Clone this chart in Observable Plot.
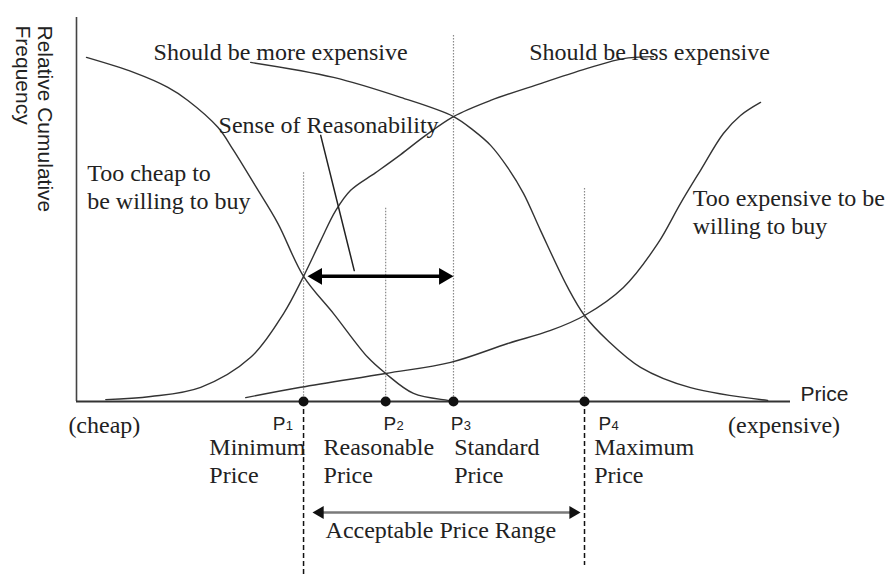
<!DOCTYPE html>
<html>
<head>
<meta charset="utf-8">
<script src="https://cdn.jsdelivr.net/npm/d3@7"></script>
<script src="https://cdn.jsdelivr.net/npm/@observablehq/plot@0.6"></script>
<style>
  html, body { margin: 0; padding: 0; background: #fff; }
  #chart svg { display: block; }
</style>
</head>
<body>
<div id="chart"></div>
<script>
// Price sensitivity meter: four cumulative response curves over price
// (price on a 0–100 scale, relative cumulative frequency in %).

const tooCheapPrice = [1.4, 8.0, 12.8, 15.6, 19.8, 22.0, 25.1, 28.2, 31.8, 36.0, 40.8, 43.3, 47.2, 52.0, 53.1];
const tooCheapFreq  = [89.6, 85.7, 81.8, 78.4, 71.4, 65.4, 56.0, 46.4, 32.6, 22.9, 11.5, 7.3, 2.1, 0.3, 0];

const moreExpPrice = [24.4, 36.0, 45.4, 52.8, 55.6, 58.0, 60.4, 62.6, 65.0, 68.8, 71.15, 74.4, 79.0, 86.0, 96.8];
const moreExpFreq  = [88.3, 84.4, 79.2, 74.2, 70.6, 66.7, 60.9, 54.2, 44.5, 29.7, 22.4, 15.9, 8.9, 3.6, 0.3];

const lessExpPrice = [4.1, 10.4, 17.4, 24.4, 29.0, 31.8, 34.2, 36.3, 38.4, 41.9, 45.4, 48.9, 52.8, 58.0, 65.0, 72.0, 76.6, 80.8];
const lessExpFreq  = [0.5, 1.3, 3.7, 11.5, 22.9, 32.6, 41.9, 49.7, 55.0, 59.6, 64.3, 69.3, 74.2, 78.4, 82.8, 87.0, 89.3, 89.8];

const tooExpPrice = [23.7, 31.4, 43.3, 52.4, 60.4, 66.4, 71.15, 76.6, 81.4, 84.6, 87.4, 90.6, 93.0, 95.8];
const tooExpFreq  = [1.0, 3.7, 7.3, 10.2, 15.1, 18.5, 22.4, 29.7, 41.1, 51.6, 60.2, 69.8, 74.5, 77.9];

// Intersection prices P1..P4 and their captions
const pointSub      = ["1", "2", "3", "4"];
const pointPrices   = [31.8, 43.3, 52.8, 71.15];
const pointCaptions = ["Minimum\nPrice", "Reasonable\nPrice", "Standard\nPrice", "Maximum\nPrice"];
const guideTops     = [59.6, 50.3, 95.3, 55.5];     // dotted guide heights (%)
const pLabelPrice   = [27.5, 43.0, 52.4, 73.1];     // "P" label anchors
const captionPrice  = [18.6, 34.6, 52.9, 72.5];     // caption anchors
const dashedEnds    = [-45.1, -42.7];               // dashed P1 / P4 extensions below the axis

// Curve names and their anchors
const curveLabelText  = ["Should be more expensive", "Should be less expensive", "Sense of Reasonability",
                         "Too cheap to\nbe willing to buy", "Too expensive to be\nwilling to buy"];
const curveLabelPrice = [10.8, 63.4, 19.9, 1.5, 86.3];
const curveLabelFreq  = [94.0, 94.0, 75.0, 62.5, 56.0];

// Pointer from "Sense of Reasonability" to the P1–P3 span
const pointerPrice = [34.2, 38.9];
const pointerFreq  = [69.3, 34.1];

const endLabels      = ["(cheap)", "(expensive)"];
const endLabelPrice  = [3.9, 99.1];
const endLabelFreq   = -3.65;
const rangeLabelText = "Acceptable Price Range";
const rangeArrowFreq = -28.9;
const rangeLabelFreq = -31.0;
const yTitle = "Relative Cumulative\nFrequency";
const xTitle = "Price";

const serif = "'Liberation Serif', 'Times New Roman', serif";
const sans  = "'Liberation Sans', Arial, sans-serif";

const toRows = (name, xs, ys) => xs.map((x, i) => ({curve: name, price: x, freq: ys[i]}));
const curves = [
  ...toRows("tooCheap", tooCheapPrice, tooCheapFreq),
  ...toRows("moreExpensive", moreExpPrice, moreExpFreq),
  ...toRows("lessExpensive", lessExpPrice, lessExpFreq),
  ...toRows("tooExpensive", tooExpPrice, tooExpFreq)
];
const idx = pointPrices.map((_, i) => i);
const p1Freq = tooCheapFreq[tooCheapPrice.indexOf(31.8)];
const reason = [{x1: pointPrices[0], x2: pointPrices[2], y: p1Freq}];
const range = [{x1: pointPrices[0], x2: pointPrices[3], y: rangeArrowFreq}];

const chart = Plot.plot({
  width: 894,
  height: 574,
  marginLeft: 76,
  marginRight: 104,
  marginTop: 17,
  marginBottom: 173,
  x: {domain: [0, 100], axis: null},
  y: {domain: [0, 100], axis: null},
  style: {background: "#fff", color: "#222"},
  marks: [
    // dotted guides from each intersection down to the axis
    Plot.ruleX(idx, {x: i => pointPrices[i], y1: i => guideTops[i], y2: 0,
      stroke: "#8a8a8a", strokeWidth: 1.2, strokeDasharray: "1.5 1.5"}),
    // dashed bounds of the acceptable range
    Plot.ruleX([0, 3], {x: i => pointPrices[i], y1: 0, y2: (i, k) => dashedEnds[k],
      stroke: "#111", strokeWidth: 1.5, strokeDasharray: "5 3"}),
    // axes
    Plot.ruleX([0], {y1: 0, y2: 100, stroke: "#444", strokeWidth: 1.6}),
    Plot.ruleY([0], {x1: 0, x2: 100, stroke: "#333", strokeWidth: 1.8}),
    // the four response curves
    Plot.line(curves, {x: "price", y: "freq", z: "curve", curve: "catmull-rom",
      stroke: "#333", strokeWidth: 1.4}),
    // pointer line
    Plot.line(pointerPrice.map((p, i) => ({price: p, freq: pointerFreq[i]})),
      {x: "price", y: "freq", stroke: "#222", strokeWidth: 1.5}),
    // sense-of-reasonability double arrow (P1 to P3)
    Plot.ruleY(reason, {x1: "x1", x2: "x2", y: "y", stroke: "#000", strokeWidth: 3.5,
      insetLeft: 12, insetRight: 10}),
    Plot.dot(reason, {x: "x2", y: "y", symbol: "triangle", r: 6.2, rotate: 90, dx: -9.6, fill: "#000", stroke: "none"}),
    Plot.dot(reason, {x: "x1", y: "y", symbol: "triangle", r: 6.2, rotate: -90, dx: 13.6, fill: "#000", stroke: "none"}),
    // acceptable price range arrow (P1 to P4)
    Plot.ruleY(range, {x1: "x1", x2: "x2", y: "y", stroke: "#7a7a7a", strokeWidth: 2.6,
      insetLeft: 14, insetRight: 9}),
    Plot.dot(range, {x: "x2", y: "y", symbol: "triangle", r: 4.8, rotate: 90, dx: -11.4, fill: "#111", stroke: "none"}),
    Plot.dot(range, {x: "x1", y: "y", symbol: "triangle", r: 4.8, rotate: -90, dx: 16.4, fill: "#111", stroke: "none"}),
    // intersection points on the price axis
    Plot.dot(pointPrices, {x: d => d, y: 0, r: 5, fill: "#111", stroke: "none"}),
    // curve names
    Plot.text(idx.concat([4]), {x: i => curveLabelPrice[i], y: i => curveLabelFreq[i], text: i => curveLabelText[i],
      textAnchor: "start", lineAnchor: "top", lineHeight: 1.15, fontFamily: serif, fontSize: 24, fill: "#222"}),
    // P labels with subscripts
    Plot.text(idx, {x: i => pLabelPrice[i], y: -4.0, text: () => "P", textAnchor: "start", lineAnchor: "top",
      fontFamily: sans, fontSize: 19, fill: "#222"}),
    Plot.text(idx, {x: i => pLabelPrice[i], y: -4.0, text: i => pointSub[i], textAnchor: "start", lineAnchor: "top",
      dx: 13, dy: 4, fontFamily: sans, fontSize: 13, fill: "#222"}),
    // captions under the points
    Plot.text(idx, {x: i => captionPrice[i], y: -8.85, text: i => pointCaptions[i], textAnchor: "start",
      lineAnchor: "top", lineHeight: 1.17, fontFamily: serif, fontSize: 24, fill: "#222"}),
    // cheap / expensive ends
    Plot.text(endLabels, {x: (d, i) => endLabelPrice[i], y: endLabelFreq, text: d => d, textAnchor: "middle",
      lineAnchor: "top", fontFamily: serif, fontSize: 24, fill: "#222"}),
    Plot.text([rangeLabelText], {x: pointPrices[0], y: rangeLabelFreq, text: d => d, textAnchor: "start",
      lineAnchor: "top", dx: 22, fontFamily: serif, fontSize: 24, fill: "#222"}),
    // axis titles
    Plot.text([xTitle], {x: 100, y: 0, text: d => d, textAnchor: "start", lineAnchor: "middle",
      dx: 10, dy: -7, fontFamily: sans, fontSize: 21, fill: "#222"}),
    Plot.text([yTitle], {frameAnchor: "top-left", text: d => d, rotate: 90, textAnchor: "start", lineAnchor: "top",
      lineHeight: 1.05, dx: -23, dy: 8, fontFamily: sans, fontSize: 21, fill: "#222"})
  ]
});

document.getElementById("chart").appendChild(chart);
</script>
</body>
</html>
